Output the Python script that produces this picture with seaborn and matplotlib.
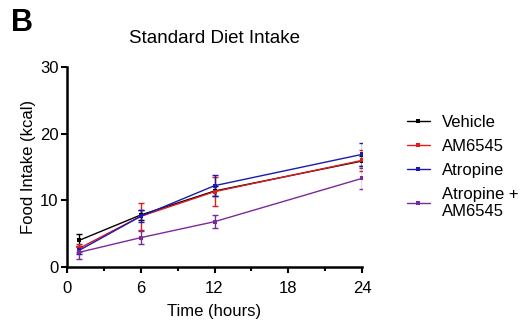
import matplotlib
matplotlib.use("Agg")
import matplotlib.pyplot as plt
import seaborn as sns
import pandas as pd
import numpy as np
from matplotlib.ticker import MultipleLocator

times = [1, 6, 12, 24]
groups = ["Vehicle", "AM6545", "Atropine", "Atropine +\nAM6545"]
vehicle = [4.0, 7.8, 11.4, 15.9]
vehicle_err = [1.0, 0.8, 0.8, 0.8]
am6545 = [2.8, 7.6, 11.3, 16.0]
am6545_err = [0.6, 2.0, 2.2, 1.6]
atropine = [2.5, 7.6, 12.2, 16.9]
atropine_err = [0.6, 0.9, 1.6, 1.7]
combo = [2.2, 4.4, 6.8, 13.3]
combo_err = [1.0, 1.0, 1.0, 1.6]

colors = ["#000000", "#e31a1c", "#1a1ab0", "#7b2a9e"]

means = [vehicle, am6545, atropine, combo]
errs = [vehicle_err, am6545_err, atropine_err, combo_err]

rows = []
for g, m, e in zip(groups, means, errs):
    for t, v, s in zip(times, m, e):
        rows.append({"Time": t, "Intake": v, "SEM": s, "Group": g})
df = pd.DataFrame(rows)

sns.set_style("ticks")
plt.rcParams["font.family"] = ["Liberation Sans", "DejaVu Sans"]
plt.rcParams["text.color"] = "black"
plt.rcParams["axes.labelcolor"] = "black"

fig = plt.figure(figsize=(5.31, 3.24), dpi=100)
ax = fig.add_axes([0.126, 0.176, 0.556, 0.617])

for g, c in zip(groups, colors):
    sub = df[df.Group == g]
    ax.errorbar(sub.Time, sub.Intake, yerr=sub.SEM, fmt="none", ecolor=c,
                elinewidth=1.0, capsize=2, capthick=1.0, zorder=2)

sns.lineplot(data=df, x="Time", y="Intake", hue="Group", hue_order=groups,
             palette=colors, marker="s", markersize=3.5, markeredgewidth=0,
             linewidth=1.0, ax=ax, errorbar=None, zorder=3)

ax.set_xlim(0, 24)
ax.set_ylim(0, 30)
ax.set_xticks([0, 6, 12, 18, 24])
ax.xaxis.set_minor_locator(MultipleLocator(3))
ax.set_yticks([0, 10, 20, 30])
ax.tick_params(axis="both", which="major", length=4, width=1.5, labelsize=12, color="black", labelcolor="black", pad=2)
ax.tick_params(axis="x", which="major", pad=6)
ax.tick_params(axis="x", which="minor", length=3, width=1.5, color="black")
for sp in ["left", "bottom"]:
    ax.spines[sp].set_linewidth(1.8)
    ax.spines[sp].set_color("black")
sns.despine(ax=ax)
ax.set_xlabel("Time (hours)", fontsize=12, labelpad=6)
ax.set_ylabel("Food Intake (kcal)", fontsize=12, labelpad=3)
ax.set_title("Standard Diet Intake", fontsize=13.5, pad=17)

leg = ax.legend(loc="center left", bbox_to_anchor=(1.1, 0.50), frameon=False,
                fontsize=12, handlelength=1.4, labelspacing=0.55, handletextpad=0.7,
                markerscale=0.8)

fig.text(0.02, 0.975, "B", fontsize=22, fontweight="bold", va="top", ha="left", color="black")

fig.savefig("out.png", dpi=100)
